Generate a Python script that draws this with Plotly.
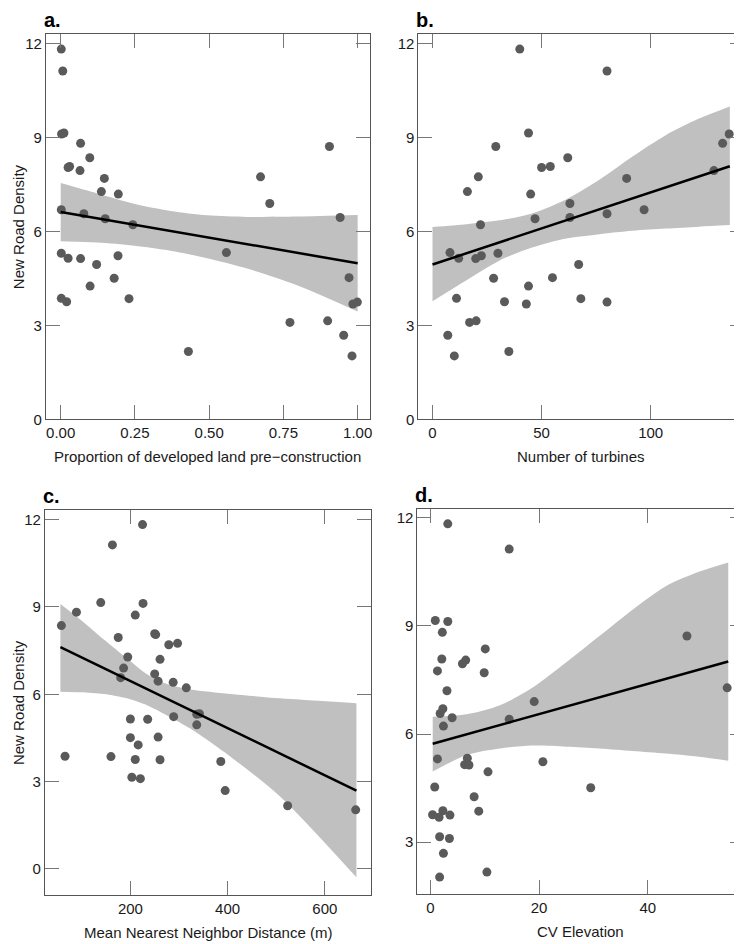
import plotly.graph_objects as go

# ---- data: one row per wind-farm site ----
new_road_density = [11.83, 11.13, 9.15, 9.12, 8.82, 8.72, 8.36, 8.08, 8.05, 7.95,
                    7.75, 7.70, 7.28, 7.20, 6.90, 6.70, 6.57, 6.45, 6.41, 6.22,
                    5.33, 5.31, 5.23, 5.15, 5.14, 4.95, 4.53, 4.51, 4.26, 3.87,
                    3.86, 3.76, 3.75, 3.69, 3.15, 3.10, 2.69, 2.17, 2.03]

prop_developed = [0.002, 0.007, 0.011, 0.003, 0.067, 0.905, 0.098, 0.030, 0.025, 0.065,
                  0.673, 0.147, 0.137, 0.194, 0.704, 0.002, 0.078, 0.941, 0.150, 0.243,
                  0.558, 0.002, 0.193, 0.025, 0.067, 0.121, 0.971, 0.180, 0.099, 0.002,
                  0.230, 0.020, 0.999, 0.984, 0.899, 0.772, 0.953, 0.430, 0.981]

n_turbines = [40, 80, 44, 136, 133, 29, 62, 54, 50, 129,
              21, 89, 16, 45, 63, 97, 80, 63, 47, 22,
              8, 30, 22.4, 12, 19.8, 67, 55, 28, 44, 11,
              68, 33, 80, 43, 20, 17, 7, 35, 10]

nn_distance = [225, 163, 139, 226, 89, 210, 58, 250, 252, 175,
               297, 279, 194.5, 261, 186, 250, 180, 257, 288, 315,
               342, 336.5, 289, 200, 235.5, 336.5, 257, 200, 216, 65.5,
               160, 210, 261, 386, 203, 220.5, 395, 523.5, 663.5]

cv_elevation = [3.2, 14.5, 0.9, 3.2, 2.2, 47.2, 10.1, 2.1, 6.5, 5.9,
                1.3, 9.9, 54.6, 3.05, 19.1, 2.3, 1.8, 4.0, 14.5, 2.4,
                6.8, 1.3, 20.7, 6.3, 7.1, 10.6, 0.8, 29.5, 8.05, 2.3,
                8.9, 0.4, 3.6, 1.6, 1.7, 3.5, 2.4, 10.4, 1.7]

# ---- fitted lines (end points) and 95% confidence bands ----
fit_a_x = [0.0, 1.0]
fit_a_y = [6.63, 4.99]
band_a_x = [0.0, 0.123, 0.247, 0.37, 0.493, 0.628, 0.796, 1.0]
band_a_hi = [7.55, 7.22, 6.89, 6.66, 6.52, 6.47, 6.48, 6.53]
band_a_lo = [5.69, 5.65, 5.55, 5.39, 5.15, 4.82, 4.29, 3.45]

fit_b_x = [0.0, 136.3]
fit_b_y = [4.95, 8.09]
band_b_x = [0.0, 15.6, 30.8, 46.0, 61.2, 76.5, 91.7, 106.9, 122.1, 136.3]
band_b_hi = [6.15, 6.24, 6.36, 6.59, 7.03, 7.66, 8.40, 9.08, 9.61, 10.0]
band_b_lo = [3.78, 4.45, 5.08, 5.50, 5.78, 5.92, 6.03, 6.10, 6.16, 6.21]

fit_c_x = [56.0, 665.0]
fit_c_y = [7.62, 2.69]
band_c_x = [56.0, 97.4, 145.4, 193.2, 234.2, 275.3, 323.2, 405.3, 507.8, 665.0]
band_c_hi = [9.10, 8.56, 7.88, 7.23, 6.69, 6.35, 6.16, 6.01, 5.86, 5.69]
band_c_lo = [6.09, 6.07, 6.01, 5.86, 5.62, 5.27, 4.82, 3.86, 2.49, -0.29]

fit_d_x = [0.43, 54.8]
fit_d_y = [5.73, 8.01]
band_d_x = [0.43, 6.7, 12.8, 18.9, 25.0, 31.1, 37.2, 43.3, 49.4, 54.8]
band_d_hi = [6.48, 6.55, 6.80, 7.30, 7.99, 8.72, 9.45, 10.1, 10.5, 10.76]
band_d_lo = [4.96, 5.42, 5.60, 5.68, 5.65, 5.60, 5.53, 5.46, 5.37, 5.26]

panel_letters = ["a.", "b.", "c.", "d."]
x_titles = ["Proportion of developed land pre\u2212construction", "Number of turbines",
            "Mean Nearest Neighbor Distance (m)", "CV Elevation"]
y_title = "New Road Density"

x_tickvals = [[0, 0.25, 0.5, 0.75, 1.0], [0, 50, 100], [200, 400, 600], [0, 20, 40]]
x_ticktext = [["0.00", "0.25", "0.50", "0.75", "1.00"], ["0", "50", "100"],
              ["200", "400", "600"], ["0", "20", "40"]]
y_tickvals = [0, 3, 6, 9, 12]

# ---- layout (pixels in a 742 x 944 page) ----
W, H = 742, 944
boxes = [(38, 363, 26, 415), (412, 739, 26, 415), (37, 364, 506, 895), (411, 739, 505, 894)]
x_ranges = [[-0.05, 1.04], [-6.5, 142.8], [24, 694], [-2.4, 57.7]]
y_ranges = [[0, 12.32], [0, 12.32], [-0.91, 12.34], [1.55, 12.25]]

xs_all = [prop_developed, n_turbines, nn_distance, cv_elevation]
fits = [(fit_a_x, fit_a_y), (fit_b_x, fit_b_y), (fit_c_x, fit_c_y), (fit_d_x, fit_d_y)]
bands = [(band_a_x, band_a_lo, band_a_hi), (band_b_x, band_b_lo, band_b_hi),
         (band_c_x, band_c_lo, band_c_hi), (band_d_x, band_d_lo, band_d_hi)]

fig = go.Figure()
POINT = "#5a5a5a"
BAND = "rgb(192,192,192)"
FONT = "Liberation Sans, Arial, sans-serif"
TXT = "#1a1a1a"

for i, xv in enumerate(xs_all):
    ax = "" if i == 0 else str(i + 1)
    xa, ya = "x" + ax, "y" + ax
    bx, blo, bhi = bands[i]
    fig.add_trace(go.Scatter(x=bx, y=blo, mode="lines",
                             line=dict(width=0, shape="spline", smoothing=0.8, color=BAND),
                             hoverinfo="skip", showlegend=False, xaxis=xa, yaxis=ya))
    fig.add_trace(go.Scatter(x=bx, y=bhi, mode="lines", fill="tonexty", fillcolor=BAND,
                             line=dict(width=0, shape="spline", smoothing=0.8, color=BAND),
                             hoverinfo="skip", showlegend=False, xaxis=xa, yaxis=ya))
    fig.add_trace(go.Scatter(x=xv, y=new_road_density, mode="markers",
                             marker=dict(size=9, color=POINT),
                             showlegend=False, xaxis=xa, yaxis=ya))
    fx, fy = fits[i]
    fig.add_trace(go.Scatter(x=fx, y=fy, mode="lines", line=dict(color="black", width=2.5),
                             showlegend=False, xaxis=xa, yaxis=ya))

    l, r, t, bt = boxes[i]
    axis_common = dict(showline=True, linecolor="#555555", linewidth=1, mirror="allticks",
                       ticks="inside", ticklen=14, tickcolor="#777777", tickwidth=1,
                       showgrid=False, zeroline=False,
                       tickfont=dict(family=FONT, size=15, color=TXT))
    fig.layout["xaxis" + ax] = dict(domain=[l / W, r / W], range=x_ranges[i], anchor=ya,
                                    tickvals=x_tickvals[i], ticktext=x_ticktext[i], **axis_common)
    fig.layout["yaxis" + ax] = dict(domain=[1 - bt / H, 1 - t / H], range=y_ranges[i], anchor=xa,
                                    tickvals=y_tickvals, **axis_common)

    fig.add_annotation(text="<b>" + panel_letters[i] + "</b>", xref="paper", yref="paper",
                       x=(l - 4) / W, y=1 - (t - 14) / H, xanchor="left", yanchor="middle",
                       showarrow=False, font=dict(family=FONT, size=20, color="black"))
    fig.add_annotation(text=x_titles[i], xref="paper", yref="paper",
                       x=(l + r) / 2 / W, y=1 - (bt + 37) / H, xanchor="center", yanchor="middle",
                       showarrow=False, font=dict(family=FONT, size=15, color=TXT))
    if i in (0, 2):
        fig.add_annotation(text=y_title, xref="paper", yref="paper", textangle=-90,
                           x=0 / W, y=1 - (t + bt) / 2 / H, xanchor="left", yanchor="middle",
                           showarrow=False, font=dict(family=FONT, size=15, color=TXT))

fig.update_layout(width=W, height=H, margin=dict(l=0, r=0, t=0, b=0),
                  plot_bgcolor="white", paper_bgcolor="white", showlegend=False)
fig.write_html("out.html")
